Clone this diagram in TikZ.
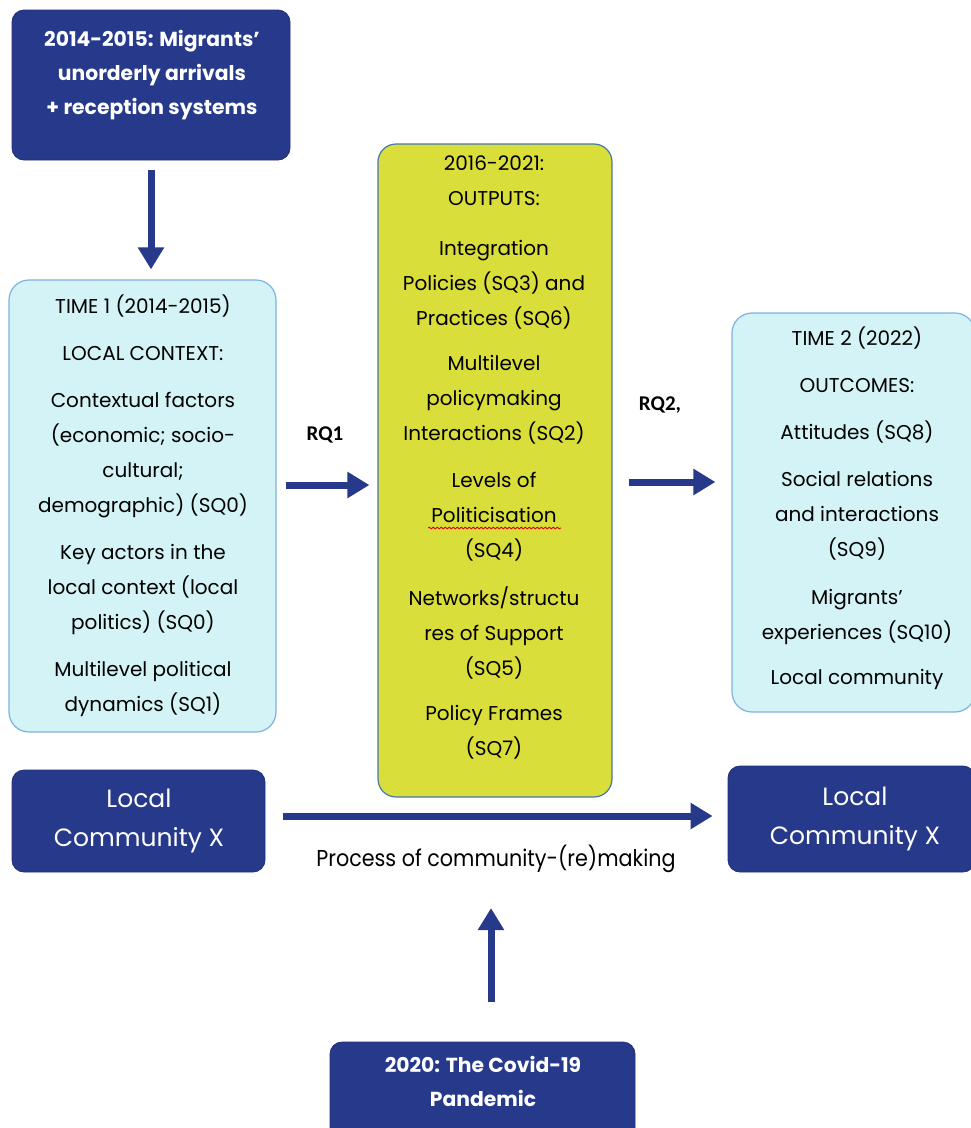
\documentclass[tikz,border=0pt]{standalone}
\usepackage{fontspec}
\setmainfont{Poppins}
\newfontfamily\rqfont{Carlito}
\newfontfamily\condfont[FakeStretch=0.9]{Poppins}
\usetikzlibrary{arrows.meta,decorations.pathmorphing}
\definecolor{navy}{RGB}{38,57,139}
\definecolor{lightcyan}{RGB}{211,243,246}
\definecolor{cyanline}{RGB}{125,178,225}
\definecolor{lime}{RGB}{217,222,58}
\definecolor{limeline}{RGB}{70,120,175}
\begin{document}
\begin{tikzpicture}[x=1pt,y=-1pt,
  darkbox/.style={fill=navy,draw=navy!85!black,line width=0.8pt,rounded corners=12pt,inner sep=0pt},
  cyanbox/.style={fill=lightcyan,draw=cyanline,line width=1.2pt,rounded corners=20pt,inner sep=0pt},
  limebox/.style={fill=lime,draw=limeline,line width=1.2pt,rounded corners=18pt,inner sep=0pt},
  txt/.style={align=center,inner sep=0pt,anchor=north,font=\fontsize{20}{35}\selectfont},
  wtxt/.style={align=center,inner sep=0pt,anchor=north,text=white,font=\bfseries\fontsize{20.3}{34}\selectfont},
  lctxt/.style={align=center,inner sep=0pt,anchor=north,text=white,font=\fontsize{25}{39}\selectfont},
  rqlab/.style={inner sep=0pt,font=\rqfont\bfseries\fontsize{21}{24}\selectfont},
  bigarrow/.style={draw=navy,line width=7pt,-{Triangle[width=25pt,length=22pt]}}
]
\useasboundingbox (0,0) rectangle (970,1128);

% boxes
\node[darkbox,minimum width=278pt,minimum height=150pt] (top) at (151,85) {};
\node[cyanbox,minimum width=267pt,minimum height=452pt] (left) at (142.5,506) {};
\node[limebox,minimum width=234pt,minimum height=653pt] (mid) at (495,470.5) {};
\node[cyanbox,minimum width=243pt,minimum height=399pt] (right) at (853.5,512.5) {};
\node[darkbox,minimum width=253pt,minimum height=102pt] (lcl) at (138.5,821) {};
\node[darkbox,minimum width=247pt,minimum height=106pt] (lcr) at (851.5,819) {};
\node[darkbox,minimum width=305pt,minimum height=110pt] (covid) at (482.5,1097) {};

% texts
\node[wtxt] (toptxt) at (152,30) {2014-2015: Migrants'\\unorderly arrivals\\+ reception systems};
\node[txt] (lefttxt) at (143,295) {TIME 1 (2014-2015)\\[12pt]LOCAL CONTEXT:\\[12pt]Contextual factors\\(economic; socio-\\cultural;\\demographic) (SQ0)\\[12pt]Key actors in the\\local context (local\\politics) (SQ0)\\[12pt]Multilevel political\\dynamics (SQ1)};
\node[txt] (midtxt) at (494,156) {2016-2021:\\OUTPUTS:\\[15pt]Integration\\Policies (SQ3) and\\Practices (SQ6)\\[10pt]Multilevel\\policymaking\\Interactions (SQ2)\\[12pt]Levels of\\Politicisation\\(SQ4)\\[13pt]Networks/structu\\res of Support\\(SQ5)\\[10pt]Policy Frames\\(SQ7)};
\node[txt] (righttxt) at (857,327) {TIME 2 (2022)\\[12pt]OUTCOMES:\\[12pt]Attitudes (SQ8)\\[12pt]Social relations\\and interactions\\(SQ9)\\[13pt]Migrants'\\experiences (SQ10)\\[10pt]Local community};
\node[lctxt] (lcltxt) at (139,789) {Local\\Community X};
\node[lctxt] (lcrtxt) at (855,787) {Local\\Community X};
\node[wtxt] (covidtxt) at (483,1056) {2020: The Covid-19\\Pandemic};
\node[inner sep=0pt,font=\condfont\fontsize{23}{26}\selectfont] (proc) at (496,859) {Process of community-(re)making};
\node[rqlab] (rq1) at (325,435) {RQ1};
\node[rqlab] (rq2) at (660,405) {RQ2,};

% spell-check underline
\draw[red!85!black,line width=0.8pt,decorate,decoration={snake,segment length=4pt,amplitude=0.9pt}] (428,528) -- (561,528);

% arrows
\draw[bigarrow,shorten <=10pt,shorten >=10pt] (top.south) -- (top.south |- left.north);
\draw[bigarrow,shorten <=9pt,shorten >=8pt] (left.east |- 0,485) -- (mid.west |- 0,485);
\draw[bigarrow,shorten <=16pt,shorten >=16pt] (mid.east |- 0,482) -- (right.west |- 0,482);
\draw[bigarrow,shorten <=18pt,shorten >=15pt] (lcl.east |- 0,816) -- (lcr.west |- 0,816);
\coordinate (covidtail) at ([xshift=8.5pt,yshift=40pt]covid.north);
\draw[bigarrow,shorten >=35pt] (covidtail) -- (covidtail |- proc.south);
\end{tikzpicture}
\end{document}
